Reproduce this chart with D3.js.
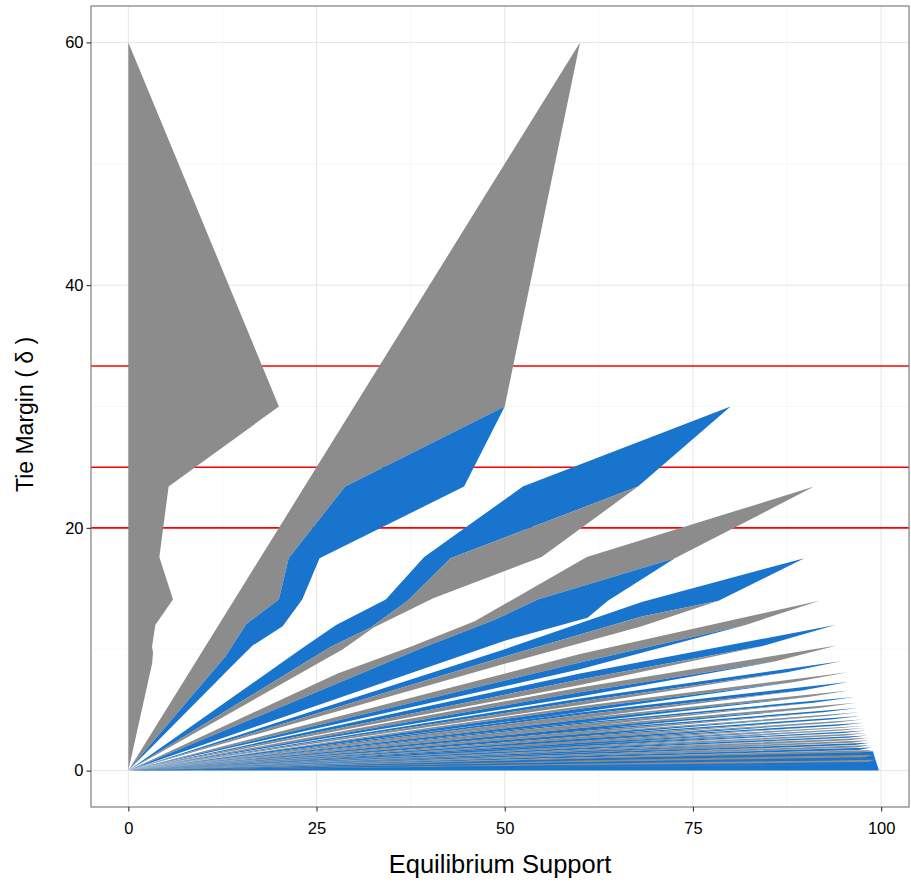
<!DOCTYPE html>
<html>
<head>
<meta charset="utf-8">
<script src="https://cdn.jsdelivr.net/npm/d3@7"></script>
<style>
  body { margin: 0; background: #fff; }
  svg text { font-family: "Liberation Sans", Arial, Helvetica, sans-serif; }
</style>
</head>
<body>
<svg id="chart" width="911" height="884"></svg>
<script>
// axis ticks
const xTicks = [0, 25, 50, 75, 100];
const yTicks = [0, 20, 40, 60];
const xMinor = [12.5, 37.5, 62.5, 87.5];
const yMinor = [10, 30, 50];

// horizontal reference lines (tie margin thresholds)
const refLines = [100 / 3, 25, 20];

// region polygons, [equilibrium support, tie margin]
const bands = [
  // dense fan near the bottom
  [[0, 0], [60, 1.0], [98.9, 1.6], [99.7, 0]],
  [[0, 0], [60, 0.436], [99.3, 0.7], [98.7, 0.5], [60, 0.313]],
  [[0, 0], [60, 0.313], [98.7, 0.5], [60, 0.294]],
  [[0, 0], [60, 0.561], [99.2, 0.9], [98.4, 0.7], [60, 0.44]],
  [[0, 0], [60, 0.44], [98.4, 0.7], [60, 0.413]],
  [[0, 0], [60, 0.686], [99.1, 1.1], [98.1, 0.9], [60, 0.567]],
  [[0, 0], [60, 0.567], [98.1, 0.9], [60, 0.533]],
  [[0, 0], [60, 0.811], [99.0, 1.3], [97.8, 1.1], [60, 0.695]],
  [[0, 0], [60, 0.695], [97.8, 1.1], [60, 0.653]],
  [[0, 0], [60, 0.937], [98.9, 1.5], [97.55, 1.3], [60, 0.824]],
  [[0, 0], [60, 0.824], [97.55, 1.3], [60, 0.775]],
  [[0, 0], [60, 1.063], [98.8, 1.7], [97.3, 1.5], [60, 0.953]],
  [[0, 0], [60, 0.953], [97.3, 1.5], [60, 0.895]],
  [[0, 0], [60, 1.19], [98.7, 1.9], [97.0, 1.7], [60, 1.083]],
  [[0, 0], [60, 1.083], [97.0, 1.7], [60, 1.02]],
  [[0, 0], [60, 1.316], [98.6, 2.1], [96.7, 1.9], [60, 1.214]],
  [[0, 0], [60, 1.214], [96.7, 1.9], [60, 1.14]],
  [[0, 0], [60, 1.443], [98.5, 2.3], [96.43, 2.1], [60, 1.346]],
  [[0, 0], [60, 1.346], [96.43, 2.1], [60, 1.265]],
  [[0, 0], [60, 1.57], [98.4, 2.5], [96.15, 2.3], [60, 1.478]],
  [[0, 0], [60, 1.478], [96.15, 2.3], [60, 1.39]],
  [[0, 0], [60, 1.697], [98.3, 2.7], [95.87, 2.5], [60, 1.612]],
  [[0, 0], [60, 1.612], [95.87, 2.5], [60, 1.515]],
  [[0, 0], [60, 1.825], [98.19, 2.9], [95.58, 2.7], [60, 1.746]],
  [[0, 0], [60, 1.746], [95.58, 2.7], [60, 1.64]],
  [[0, 0], [60, 1.953], [98.09, 3.1], [95.3, 2.9], [60, 1.881]],
  [[0, 0], [60, 1.881], [95.3, 2.9], [60, 1.77]],
  [[0, 0], [60, 2.08], [97.98, 3.3], [95.01, 3.1], [60, 2.017]],
  [[0, 0], [60, 2.017], [95.01, 3.1], [60, 1.9]],
  [[0, 0], [60, 2.21], [97.88, 3.5], [94.73, 3.3], [60, 2.153]],
  [[0, 0], [60, 2.153], [94.73, 3.3], [60, 2.02]],
  [[0, 0], [60, 2.37], [97.9, 3.7], [94.6, 3.5], [60, 2.3]],
  [[0, 0], [60, 2.3], [94.6, 3.5], [60, 2.16]],
  [[0, 0], [60, 2.53], [97.7, 3.95], [94.2, 3.7], [60, 2.45]],
  [[0, 0], [60, 2.45], [94.2, 3.7], [60, 2.3]],
  [[0, 0], [60, 2.7], [97.5, 4.2], [93.8, 3.95], [60, 2.62]],
  [[0, 0], [60, 2.62], [93.8, 3.95], [60, 2.46]],
  [[0, 0], [60, 2.9], [97.3, 4.5], [93.3, 4.2], [60, 2.8]],
  [[0, 0], [60, 2.8], [93.3, 4.2], [60, 2.63]],
  [[0, 0], [60, 3.1], [97.1, 4.8], [92.8, 4.5], [60, 3.02]],
  [[0, 0], [60, 3.02], [92.8, 4.5], [60, 2.85]],
  [[0, 0], [60, 3.34], [96.9, 5.16], [92.3, 4.8], [60, 3.24]],
  [[0, 0], [60, 3.24], [92.3, 4.8], [60, 3.05]],
  [[0, 0], [60, 3.63], [96.7, 5.6], [91.7, 5.16], [60, 3.5]],
  [[0, 0], [60, 3.5], [91.7, 5.16], [60, 3.3]],
  [[0, 0], [60, 3.95], [96.5, 6.07], [91, 5.6], [60, 3.83]],
  [[0, 0], [60, 3.83], [91, 5.6], [60, 3.6]],
  [[0, 0], [60, 4.32], [95.75, 6.6], [90.3, 6.07], [60, 4.18]],
  [[0, 0], [60, 4.18], [90.3, 6.07], [60, 3.95]],
  [[0, 0], [60, 4.78], [95.6, 7.3], [89.5, 6.6], [60, 4.6]],
  [[0, 0], [60, 4.6], [89.5, 6.6], [60, 4.3]],
  [[0, 0], [60, 5.3], [95.6, 8.1], [88.5, 7.3], [60, 5.1]],
  [[0, 0], [60, 5.1], [88.5, 7.3], [60, 4.8]],
  [[0, 0], [60, 5.95], [94.65, 9.0], [87.5, 8.1], [60, 5.7]],
  [[0, 0], [60, 5.7], [87.5, 8.1], [60, 5.4]],
  [[0, 0], [60, 6.85], [94.1, 10.3], [86, 9.0], [60, 6.45]],
  [[0, 0], [60, 6.45], [86, 9.0], [60, 6.1]],
  [[0, 0], [60, 8.0], [93.9, 12.0], [84.5, 10.3], [60, 7.5]],
  [[0, 0], [60, 7.5], [84.5, 10.3], [60, 7.05]],
  [[0, 0], [60, 9.6], [91.8, 14.0], [82, 12.0], [60, 8.9]],
  [[0, 0], [60, 8.9], [82, 12.0], [60, 8.35]],
  // larger regions
  [[0, 0], [50, 10.0], [68.2, 13.9], [89.8, 17.5], [78.4, 14.0], [68.2, 12.7], [50, 9.4]],
  [[0, 0], [50, 9.4], [68.2, 12.7], [78.4, 14.0], [68.2, 11.9], [50, 8.8]],
  [[0, 0], [27.8, 8.0], [37.5, 10.2], [46, 12.3], [60.9, 17.6], [91.1, 23.4], [72.6, 17.5], [54.4, 14.1], [48.6, 12.4], [39, 10.1]],
  [[0, 0], [39, 10.1], [48.6, 12.4], [54.4, 14.1], [72.6, 17.5], [63.7, 14.0], [61, 12.6], [50, 10.7]],
  [[0, 0], [22.9, 10.0], [27.6, 12.0], [34.2, 14.1], [39.3, 17.6], [52.4, 23.4], [80, 30], [67.7, 23.4], [42.8, 17.5], [37.1, 14.0], [32.2, 11.8], [26.9, 10.2]],
  [[0, 0], [26.9, 10.2], [32.2, 11.8], [37.1, 14.0], [42.8, 17.5], [67.7, 23.4], [54.9, 17.6], [40.5, 14.2], [32.6, 11.8], [28.5, 10.0]],
  [[0, 0], [60, 60], [50, 30], [28.8, 23.4], [21.3, 17.5], [20.0, 14.1], [15.7, 12.1], [12.9, 9.4]],
  [[0, 0], [12.9, 9.4], [15.7, 12.1], [20.0, 14.1], [21.3, 17.5], [28.8, 23.4], [50, 30], [44.6, 23.4], [25.4, 17.5], [23.1, 14.1], [20.5, 11.9], [16.5, 10.3], [13.4, 8.4]],
  [[0, 0], [0, 60], [20, 30], [5.35, 23.4], [4.12, 17.6], [5.93, 14.1], [3.58, 12.0], [3.15, 10.2], [3.28, 9.7], [3.15, 8.8]]
];
const bandFill = [
  "b",
  "b", "g", "g", "b", "b", "g", "g", "b", "b", "g",
  "g", "b", "b", "g", "g", "b", "b", "g", "g", "b",
  "g", "b", "b", "g", "g", "b", "b", "g", "g", "b",
  "g", "b", "b", "g", "g", "b", "b", "g", "g", "b",
  "b", "g", "g", "b", "b", "g", "g", "b", "b", "g",
  "g", "b", "b", "g", "g", "b", "b", "g", "g", "b",
  "b", "g", "g", "b", "b", "g", "g", "b", "g"
];
const palette = { g: "#8C8C8C", b: "#1874CD" };

const svg = d3.select("#chart");
const padL = 91, padR = 909, padT = 6, padB = 807;

const x = d3.scaleLinear().domain([-4.96, 103.7]).range([padL, padR]);
const y = d3.scaleLinear().domain([-3, 63]).range([padB, padT]);

svg.append("rect").attr("width", 911).attr("height", 884).attr("fill", "#fff");

svg.append("clipPath").attr("id", "panel")
  .append("rect")
  .attr("x", padL).attr("y", padT)
  .attr("width", padR - padL).attr("height", padB - padT);

const plot = svg.append("g").attr("clip-path", "url(#panel)");

// grid
plot.selectAll(".xminor").data(xMinor).enter().append("line")
  .attr("x1", d => x(d)).attr("x2", d => x(d))
  .attr("y1", padT).attr("y2", padB)
  .attr("stroke", "#f7f7f7").attr("stroke-width", 1);
plot.selectAll(".yminor").data(yMinor).enter().append("line")
  .attr("x1", padL).attr("x2", padR)
  .attr("y1", d => y(d)).attr("y2", d => y(d))
  .attr("stroke", "#f7f7f7").attr("stroke-width", 1);
plot.selectAll(".xmajor").data(xTicks).enter().append("line")
  .attr("x1", d => x(d)).attr("x2", d => x(d))
  .attr("y1", padT).attr("y2", padB)
  .attr("stroke", "#e6e6e6").attr("stroke-width", 1);
plot.selectAll(".ymajor").data(yTicks).enter().append("line")
  .attr("x1", padL).attr("x2", padR)
  .attr("y1", d => y(d)).attr("y2", d => y(d))
  .attr("stroke", "#e6e6e6").attr("stroke-width", 1);

// reference lines sit under the regions
plot.selectAll(".ref").data(refLines).enter().append("line")
  .attr("x1", padL).attr("x2", padR)
  .attr("y1", d => y(d)).attr("y2", d => y(d))
  .attr("stroke", "#ff0000").attr("stroke-width", 1.6);

const line = d3.line().x(d => x(d[0])).y(d => y(d[1]));

plot.selectAll(".band").data(bands).enter().append("path")
  .attr("d", d => line(d) + "Z")
  .attr("fill", (d, i) => palette[bandFill[i]])
  .attr("stroke", "none");

// panel border
svg.append("rect")
  .attr("x", padL).attr("y", padT)
  .attr("width", padR - padL).attr("height", padB - padT)
  .attr("fill", "none").attr("stroke", "#7f7f7f").attr("stroke-width", 1.2);

// axes
const xAxis = svg.append("g")
  .attr("transform", "translate(0," + padB + ")")
  .call(d3.axisBottom(x).tickValues(xTicks).tickSize(4.5).tickPadding(11).tickFormat(d3.format("d")));
const yAxis = svg.append("g")
  .attr("transform", "translate(" + padL + ",0)")
  .call(d3.axisLeft(y).tickValues(yTicks).tickSize(4.5).tickPadding(3).tickFormat(d3.format("d")));

[xAxis, yAxis].forEach(g => {
  g.select(".domain").remove();
  g.selectAll(".tick line").attr("stroke", "#333").attr("stroke-width", 1.1);
  g.selectAll(".tick text").attr("fill", "#000").style("font-size", "16.5px");
});

// axis titles
svg.append("text")
  .attr("x", (padL + padR) / 2)
  .attr("y", 873)
  .attr("text-anchor", "middle")
  .style("font-size", "25.5px")
  .text("Equilibrium Support");

svg.append("text")
  .attr("transform", "translate(33," + ((padT + padB) / 2 + 8) + ") rotate(-90)")
  .attr("text-anchor", "middle")
  .style("font-size", "23px")
  .text("Tie Margin ( δ )");
</script>
</body>
</html>
